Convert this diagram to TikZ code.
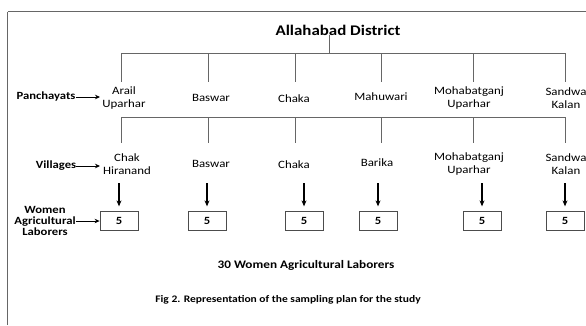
\documentclass[tikz,border=0pt]{standalone}
\usepackage{fontspec}
\setmainfont{Carlito}[FakeStretch=1.15]
\usetikzlibrary{arrows.meta}
\begin{document}
\begin{tikzpicture}[x=1pt,y=-1pt,
  conn/.style={draw=black!60, line width=0.9pt},
  ttl/.style={font=\bfseries\fontsize{14.7}{17}\selectfont, inner sep=0pt},
  lab/.style={font=\fontsize{11.2}{13}\selectfont, align=center, inner sep=0pt},
  rowlab/.style={font=\bfseries\fontsize{11}{13}\selectfont, inner sep=0pt},
  wlab/.style={font=\bfseries\fontsize{11}{11.2}\selectfont, align=center, inner sep=0pt},
  numbox/.style={draw=black!70, line width=0.8pt, minimum width=38pt, minimum height=18.5pt, inner sep=0pt, font=\bfseries\fontsize{11}{13}\selectfont},
  darr/.style={-{Stealth[length=6pt,width=5pt]}, line width=1.1pt},
  sarr/.style={-{Stealth[length=5pt,width=4.5pt]}, line width=0.8pt},
  note/.style={font=\bfseries\fontsize{11.5}{13}\selectfont, inner sep=0pt},
  capt/.style={font=\bfseries\fontsize{10}{12}\selectfont, inner sep=0pt}
]
\useasboundingbox (0,0) rectangle (586,325);
% frame
\coordinate (fc) at (7.5,11.5);
\coordinate (fb) at (7.5,325);
\coordinate (fr) at (586,11.5);
\draw[black!60, line width=1.8pt] (fb) -- (fc);
\draw[black!60, line width=1.1pt] (fc) -- (fr);

% title
\node[ttl] (top) at (338,30) {Allahabad District};
\coordinate (j1) at (329,53);
\draw[conn] (top.south -| j1) -- (j1);

% first fork
\foreach \i/\x in {1/121,2/208,3/295,4/381,5/473,6/565}{
  \coordinate (p\i) at (\x,82);
  \coordinate (q\i) at (\x,143);
}
\draw[conn] (p1 |- j1) -- (p6 |- j1);
\foreach \i in {1,...,6}{\draw[conn] (p\i |- j1) -- (p\i);}

% panchayats
\node[lab] (P1) at (124,98.5) {Arail\\Uparhar};
\node[lab] (P2) at (211,98) {Baswar};
\node[lab] (P3) at (294,99) {Chaka};
\node[lab] (P4) at (381,97) {Mahuwari};
\node[lab] (P5) at (469,98.5) {Mohabatganj\\Uparhar};
\node[lab] (P6) at (566,98.5) {Sandwa\\Kalan};
\node[rowlab] (PL) at (46,97) {Panchayats};
\coordinate (PLe) at (100,97);
\draw[sarr] (PL.east) -- (PLe);

% second fork
\coordinate (j2) at (0,117);
\draw[conn] (q1 |- j2) -- (q6 |- j2);
\foreach \i in {1,...,6}{\draw[conn] (q\i |- j2) -- (q\i);}

% villages
\node[lab] (V1) at (127,164.5) {Chak\\Hiranand};
\node[lab] (V2) at (211,164) {Baswar};
\node[lab] (V3) at (294,165) {Chaka};
\node[lab] (V4) at (377,163) {Barika};
\node[lab] (V5) at (469,164.5) {Mohabatganj\\Uparhar};
\node[lab] (V6) at (566,164.5) {Sandwa\\Kalan};
\node[rowlab] (VL) at (56,166) {Villages};
\coordinate (VLe) at (100,166);
\draw[sarr] (VL.east) -- (VLe);

% boxes
\foreach \i/\x in {1/119,2/207,3/304,4/378,5/482,6/565}{
  \node[numbox] (B\i) at (\x,221) {5};
}
\coordinate (ar) at (0,183);
\foreach \i in {1,...,6}{
  \draw[darr] (B\i.north |- ar) -- ([yshift=5pt]B\i.north);
}

% women label
\node[wlab] (WL) at (45,221) {Women\\Agricultural\\Laborers};
\draw[sarr] (WL.east |- B1.west) -- (B1.west);

% notes
\node[note] (tot) at (306,265) {30 Women Agricultural Laborers};
\node[capt] (cap) at (288,300) {Fig 2. Representation of the sampling plan for the study};
\end{tikzpicture}
\end{document}
